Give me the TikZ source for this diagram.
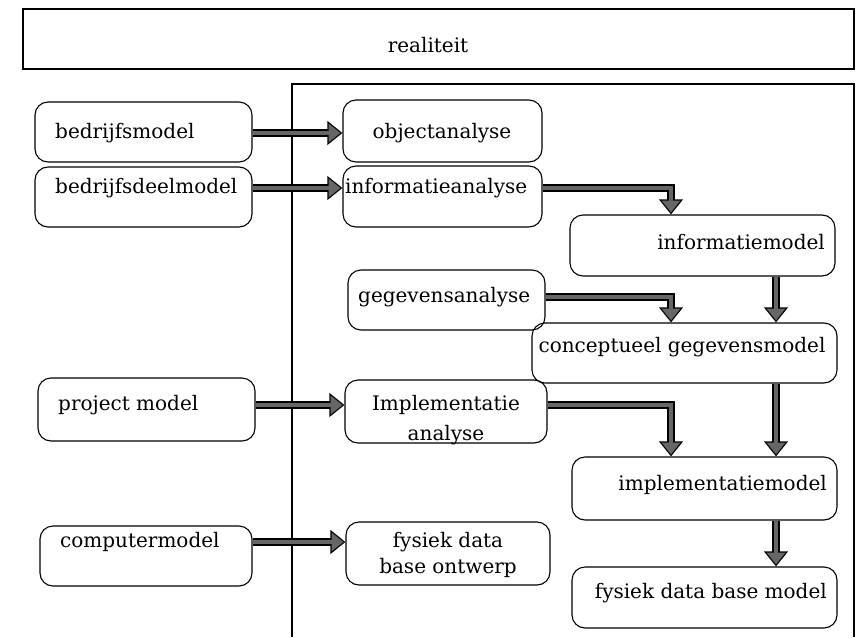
\documentclass[tikz,border=0pt]{standalone}
\usepackage{fontspec}
\setmainfont{DejaVu Serif}
\usetikzlibrary{positioning, arrows.meta}

\begin{document}
\begin{tikzpicture}[
    x=1pt, y=-1pt,
    font=\fontsize{20}{24}\selectfont,
    box/.style={draw=black, line width=1.1pt, rounded corners=13pt, inner sep=0pt},
    txt/.style={inner sep=0pt},
    frame/.style={draw=black, line width=1.3pt},
    flow/.style={line width=7.5pt, draw=black, line join=miter,
        -{Triangle[length=15pt, width=23pt]},
        postaction={draw=black!60, line width=4pt, line join=miter,
            -{Triangle[length=11.8pt, width=18pt]}, shorten >=2pt}}
]
\useasboundingbox (0,0) rectangle (861,637);

% Outer frames
\node[draw=black, line width=1.2pt, minimum width=831pt, minimum height=60pt, inner sep=0pt] (real) at (438.5,39) {};
\node[txt] (realt) at (428,45) {realiteit};
\draw[frame] (292,637) -- (292,84) -- (854,84) -- (854,637);

% Column guides for the vertical arrows
\coordinate (lcol) at (671,0);
\coordinate (rcol) at (776,0);

% Left column: models
\node[box, minimum width=217pt, minimum height=60pt] (bm) at (143.5,132) {};
\node[box, minimum width=217pt, minimum height=60pt] (bdm) at (143.5,197) {};
\node[box, minimum width=217pt, minimum height=63pt] (pm) at (146.5,409.5) {};
\node[box, minimum width=212pt, minimum height=60pt] (cm) at (146,556) {};
\node[txt, anchor=west] (bmt) at (55,133) {bedrijfsmodel};
\node[txt, anchor=west] (bdmt) at (55,188) {bedrijfsdeelmodel};
\node[txt, anchor=west] (pmt) at (58,405) {project model};
\node[txt, anchor=west] (cmt) at (60,542) {computermodel};

% Middle column: analyses
\node[box, minimum width=199pt, minimum height=62pt] (oa) at (442.5,131) {};
\node[box, minimum width=199pt, minimum height=61pt] (ia) at (442.5,196.5) {};
\node[box, minimum width=197pt, minimum height=60pt] (ga) at (446.5,300) {};
\node[box, minimum width=202pt, minimum height=63pt] (iana) at (446,411.5) {};
\node[box, minimum width=204pt, minimum height=63pt] (fo) at (448,553.5) {};
\node[txt] (oat) at (442,133) {objectanalyse};
\node[txt, anchor=west] (iat) at (345,188) {informatieanalyse};
\node[txt, anchor=west] (gat) at (358,297) {gegevensanalyse};
\node[txt, align=center, font=\fontsize{20}{30}\selectfont] (ianat) at (446,420) {Implementatie\\analyse};
\node[txt, align=center, font=\fontsize{20}{26}\selectfont] (fot) at (448,555) {fysiek data\\base ontwerp};

% Right column: resulting models
\node[box, minimum width=265pt, minimum height=61pt] (im) at (702.5,245.5) {};
\node[box, minimum width=305pt, minimum height=60pt] (cg) at (684.5,353) {};
\node[box, minimum width=265pt, minimum height=63pt] (imm) at (704.5,488.5) {};
\node[box, minimum width=265pt, minimum height=61pt] (fm) at (704.5,597.5) {};
\node[txt, anchor=east] (imt) at (825,242) {informatiemodel};
\node[txt] (cgt) at (682,347) {conceptueel gegevensmodel};
\node[txt, anchor=east] (immt) at (827,485) {implementatiemodel};
\node[txt, anchor=east] (fmt) at (827,593) {fysiek data base model};

% Horizontal arrows
\draw[flow] (bm.east |- bmt) -- (oa.west |- bmt);
\draw[flow] (bdm.east |- bdmt) -- (ia.west |- bdmt);
\draw[flow] (pm.east |- pmt) -- (iana.west |- pmt);
\draw[flow] (cm.east |- cmt) -- (fo.west |- cmt);

% Bent arrows
\draw[flow] (ia.east |- iat) -| (im.north -| lcol);
\draw[flow] (ga.east |- gat) -| (cg.north -| lcol);
\draw[flow] (iana.east |- pmt) -| (imm.north -| lcol);

% Vertical arrows
\draw[flow] (im.south -| rcol) -- (cg.north -| rcol);
\draw[flow] (cg.south -| rcol) -- (imm.north -| rcol);
\draw[flow] (imm.south -| rcol) -- (fm.north -| rcol);

\end{tikzpicture}
\end{document}
